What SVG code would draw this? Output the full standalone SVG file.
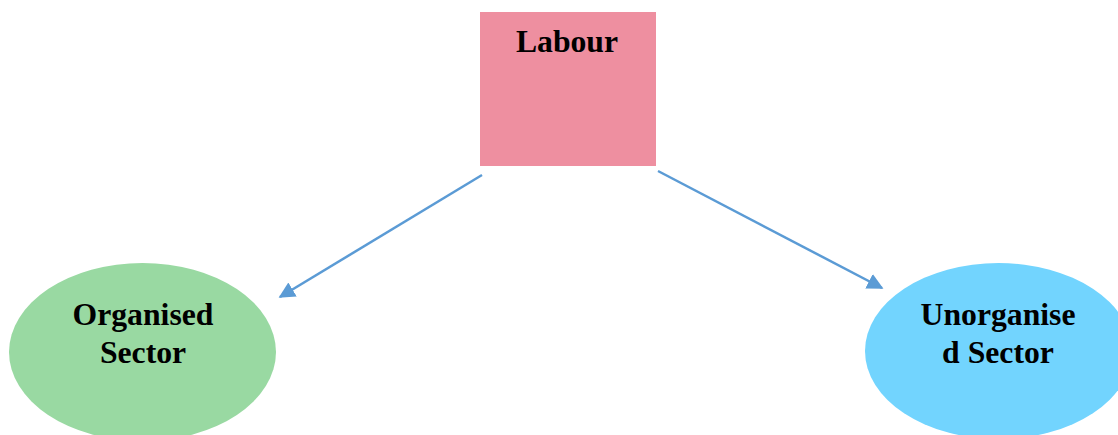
<svg xmlns="http://www.w3.org/2000/svg" width="1118" height="435" viewBox="0 0 1118 435">
<style>
.t{font-family:"Liberation Serif","Times New Roman",serif;font-weight:bold;font-size:31.7px;fill:#000;text-anchor:middle}
.c{stroke:#5B9BD5;stroke-width:2.5;fill:none}
</style>
<defs>
<marker id="ah" viewBox="0 0 10 10" refX="9" refY="5" markerWidth="6.5" markerHeight="6.5" markerUnits="strokeWidth" orient="auto">
<path d="M0,0 L10,5 L0,10 z" fill="#5B9BD5"/>
</marker>
</defs>
<rect width="1118" height="435" fill="#fff"/>
<g id="labour">
<rect x="480" y="12" width="176" height="154" fill="#EE8FA0"/>
<text class="t" x="567" y="52">Labour</text>
</g>
<g id="organised">
<ellipse cx="142.5" cy="352" rx="133.5" ry="89" fill="#99D9A2"/>
<text class="t" x="143" y="325">Organised</text>
<text class="t" x="143" y="363">Sector</text>
</g>
<g id="unorganised">
<ellipse cx="998.5" cy="351" rx="133.5" ry="88" fill="#72D4FE"/>
<text class="t" x="998" y="325">Unorganise</text>
<text class="t" x="998" y="363">d Sector</text>
</g>
<g id="connectors">
<line class="c" x1="482" y1="175" x2="280" y2="297" marker-end="url(#ah)"/>
<line class="c" x1="658" y1="171" x2="882" y2="288" marker-end="url(#ah)"/>
</g>
</svg>
